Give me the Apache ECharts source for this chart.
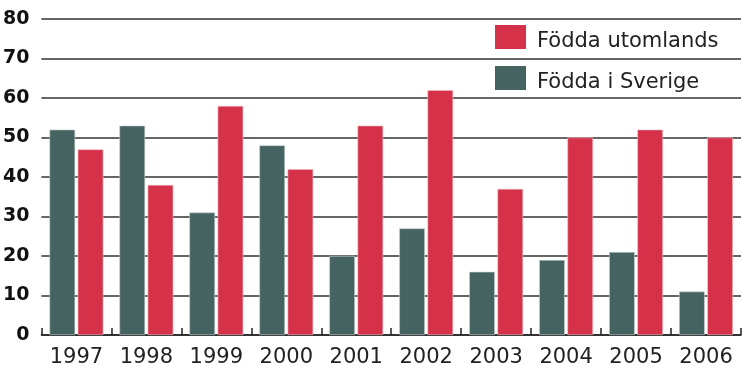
<!DOCTYPE html>
<html>
<head>
<meta charset="utf-8">
<script src="https://cdn.jsdelivr.net/npm/echarts@6/dist/echarts.min.js"></script>
<style>html,body{margin:0;padding:0;background:#fff}#c{width:742px;height:373px}</style>
</head>
<body>
<div id="c"></div>
<script>
var years = ['1997','1998','1999','2000','2001','2002','2003','2004','2005','2006'];
var foddaSverige = [52,53,31,48,20,27,16,19,21,11];
var foddaUtomlands = [47,38,58,42,53,62,37,50,52,50];
var yTicks = [0,10,20,30,40,50,60,70,80];

var chart = echarts.init(document.getElementById('c'));
chart.setOption({
  animation: false,
  backgroundColor: '#ffffff',
  grid: {left: 39, right: 1, top: 19, bottom: 38, containLabel: false},
  legend: {
    orient: 'vertical', left: 495, top: 25, itemWidth: 31, itemHeight: 24, itemGap: 14,
    padding: 0,
    data: ['Födda utomlands','Födda i Sverige'],
    itemStyle: {borderWidth: 0},
    formatter: '{t|{name}}',
    textStyle: {
      fontFamily: 'DejaVu Sans', fontSize: 21, color: '#222', padding: [0,0,0,6],
      rich: {t: {fontFamily: 'DejaVu Sans', fontSize: 21, color: '#222', lineHeight: 30, verticalAlign: 'bottom'}}
    },
    icon: 'rect'
  },
  xAxis: {
    type: 'category', data: years,
    axisLine: {show: true, lineStyle: {color: '#222', width: 1.5}},
    axisTick: {show: true, inside: true, length: 7, lineStyle: {color: '#222', width: 1.5}},
    axisLabel: {fontFamily: 'DejaVu Sans', fontSize: 21, color: '#222', margin: 12}
  },
  yAxis: {
    type: 'value', min: 0, max: 80, interval: 10,
    axisLine: {show: false}, axisTick: {show: false},
    splitLine: {show: true, lineStyle: {color: '#333', width: 1.5}},
    axisLabel: {fontFamily: 'DejaVu Sans', fontWeight: 'bold', fontSize: 19, color: '#111', margin: 12,
      formatter: function(v){ return yTicks.indexOf(v) >= 0 ? String(v) : ''; }}
  },
  series: [
    {name: 'Födda i Sverige', type: 'bar', data: foddaSverige, barGap: '10%', barCategoryGap: '23%',
     itemStyle: {color: '#456361', borderColor: '#c9d2d1', borderWidth: 0.6}},
    {name: 'Födda utomlands', type: 'bar', data: foddaUtomlands,
     itemStyle: {color: '#d53149', borderColor: '#f2c3ca', borderWidth: 0.6}}
  ]
});
</script>
</body>
</html>
